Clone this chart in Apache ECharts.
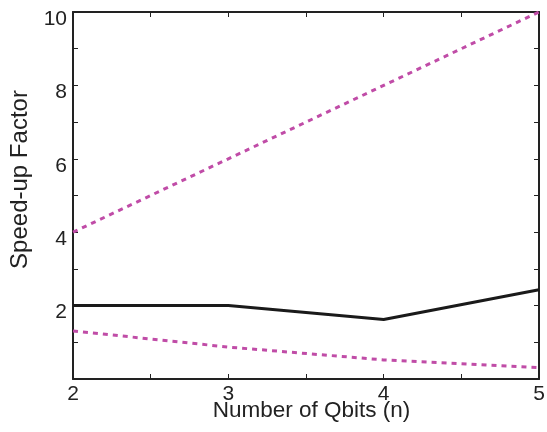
<!DOCTYPE html>
<html>
<head>
<meta charset="utf-8">
<script src="https://cdn.jsdelivr.net/npm/echarts@6/dist/echarts.min.js"></script>
<style>
html, body { margin: 0; padding: 0; background: #fff; }
#chart { width: 547px; height: 432px; }
</style>
</head>
<body>
<div id="chart"></div>
<script>
// Number of qubits on the x axis
const qubits = [2, 3, 4, 5];
// Measured speed-up (solid black)
const speedup = [2.0, 2.0, 1.62, 2.43];
// Upper bound (dotted magenta)
const upperBound = [4, 6, 8, 10];
// Lower bound (dotted magenta)
const lowerBound = [1.31, 0.87, 0.52, 0.31];

const FONT = 'Liberation Sans';
const AXIS_COLOR = '#222';
const DOT_COLOR = '#c04ca7';

const pairs = ys => qubits.map((x, i) => [x, ys[i]]);

const frameX = {
  type: 'value', min: 2, max: 5, interval: 0.5,
  axisLine: { show: true, onZero: false, lineStyle: { color: AXIS_COLOR, width: 2 } },
  axisTick: { show: true, inside: true, length: 5, lineStyle: { color: AXIS_COLOR, width: 1 } },
  splitLine: { show: false }
};
const frameY = {
  type: 'value', min: 0, max: 10, interval: 1,
  axisLine: { show: true, onZero: false, lineStyle: { color: AXIS_COLOR, width: 2 } },
  axisTick: { show: true, inside: true, length: 5, lineStyle: { color: AXIS_COLOR, width: 1 } },
  splitLine: { show: false }
};

const chart = echarts.init(document.getElementById('chart'));
chart.setOption({
  animation: false,
  backgroundColor: '#fff',
  grid: { left: 73, right: 8, top: 12, bottom: 53, containLabel: false, outerBoundsMode: 'none' },
  xAxis: [
    Object.assign({}, frameX, {
      position: 'bottom',
      name: 'Number of Qbits (n)',
      nameLocation: 'middle',
      nameGap: 20,
      nameMoveOverlap: false,
      nameTextStyle: { fontFamily: FONT, fontSize: 22.5, color: '#222', padding: [0, 0, 0, 11] },
      axisLabel: {
        show: true, margin: 5, fontFamily: FONT, fontSize: 21, color: '#222',
        formatter: v => Number.isInteger(v) ? String(v) : ''
      }
    }),
    Object.assign({}, frameX, { position: 'top', axisLabel: { show: false } })
  ],
  yAxis: [
    Object.assign({}, frameY, {
      position: 'left',
      name: 'Speed-up Factor',
      nameLocation: 'middle',
      nameGap: 41,
      nameMoveOverlap: false,
      nameTextStyle: { fontFamily: FONT, fontSize: 24, color: '#222', padding: [0, 0, 0, 32] },
      axisLabel: {
        show: true, margin: 6, fontFamily: FONT, fontSize: 21, color: '#222',
        verticalAlign: 'top', lineHeight: 14,
        formatter: v => (v > 0 && v % 2 === 0) ? String(v) : ''
      }
    }),
    Object.assign({}, frameY, { position: 'right', axisLabel: { show: false } })
  ],
  series: [
    {
      type: 'line', data: pairs(upperBound), symbol: 'none',
      lineStyle: { color: DOT_COLOR, width: 3, type: [5, 5] }
    },
    {
      type: 'line', data: pairs(speedup), symbol: 'none',
      lineStyle: { color: '#1a1a1a', width: 3 }
    },
    {
      type: 'line', data: pairs(lowerBound), symbol: 'none',
      lineStyle: { color: DOT_COLOR, width: 3, type: [5, 5] }
    }
  ]
});
</script>
</body>
</html>
